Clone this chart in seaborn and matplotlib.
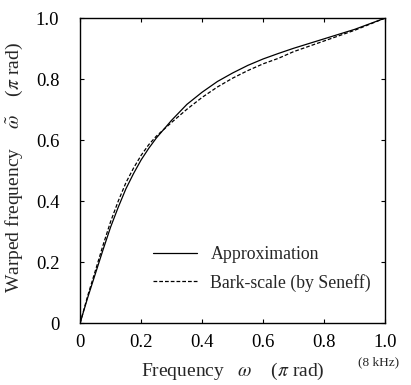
import matplotlib
matplotlib.use("Agg")
import matplotlib.pyplot as plt
import seaborn as sns
import pandas as pd

# Data
freq = [0, 0.01, 0.025, 0.05, 0.075, 0.1, 0.125, 0.15, 0.175, 0.2, 0.225, 0.25,
        0.3, 0.35, 0.4, 0.45, 0.5, 0.55, 0.6, 0.65, 0.7, 0.8, 0.9, 1.0]
approx = [0, 0.034, 0.084, 0.162, 0.24, 0.315, 0.38, 0.44, 0.49, 0.535, 0.573, 0.607,
          0.665, 0.717, 0.757, 0.792, 0.82, 0.845, 0.866, 0.884, 0.901, 0.932, 0.963, 1.0]
bark = [0, 0.036, 0.09, 0.172, 0.255, 0.333, 0.4, 0.46, 0.508, 0.55, 0.585, 0.613,
        0.658, 0.701, 0.74, 0.774, 0.803, 0.828, 0.85, 0.868, 0.89, 0.925, 0.96, 1.0]
ticks = [0, 0.2, 0.4, 0.6, 0.8, 1.0]
tick_labels = ["0", "0.2", "0.4", "0.6", "0.8", "1.0"]
series_names = ["Approximation", "Bark-scale (by Seneff)"]

sns.set_theme(style="ticks")
plt.rcParams["font.family"] = ["Liberation Serif", "DejaVu Serif"]
plt.rcParams["mathtext.fontset"] = "stix"

df = pd.DataFrame({
    "x": freq + freq,
    "y": approx + bark,
    "series": [series_names[0]] * len(freq) + [series_names[1]] * len(freq),
})

fig = plt.figure(figsize=(4.11, 3.85), dpi=100)
ax = fig.add_axes([0.195, 0.161, 0.742, 0.792])

sns.lineplot(data=df, x="x", y="y", style="series", hue="series",
             palette=["black", "black"], dashes=[(None, None), (3, 1.6)],
             linewidth=0.9, ax=ax, sort=False)

ax.set_xlim(0, 1)
ax.set_ylim(0, 1)
ax.set_xticks(ticks)
ax.set_xticklabels(tick_labels)
ax.set_yticks(ticks)
ax.set_yticklabels(tick_labels)
ax.tick_params(direction="in", length=3, width=0.8, top=True, right=True,
               labelsize=13.5, colors="black")
ax.tick_params(axis="y", pad=15)
ax.tick_params(axis="x", pad=8)
for s in ax.spines.values():
    s.set_linewidth(1.0)
    s.set_color("black")

ax.set_xlabel(r"Frequency   $\omega$    ($\pi$ rad)", fontsize=14)
ax.set_ylabel(r"Warped frequency    $\tilde{\omega}$    ($\pi$ rad)", fontsize=14)
ax.xaxis.set_label_coords(0.5, -0.125)
ax.yaxis.set_label_coords(-0.18, 0.51)
ax.text(0.977, -0.128, "(8 kHz)", transform=ax.transAxes, fontsize=9.5,
        ha="center", va="center")

leg = ax.legend(loc="upper left", bbox_to_anchor=(0.239, 0.252), frameon=False,
                fontsize=12.8, handlelength=2.5, handletextpad=0.73,
                labelspacing=0.6, borderpad=0, borderaxespad=0)
for h in leg.get_lines():
    h.set_linewidth(0.9)

fig.savefig("out.png", dpi=100)
